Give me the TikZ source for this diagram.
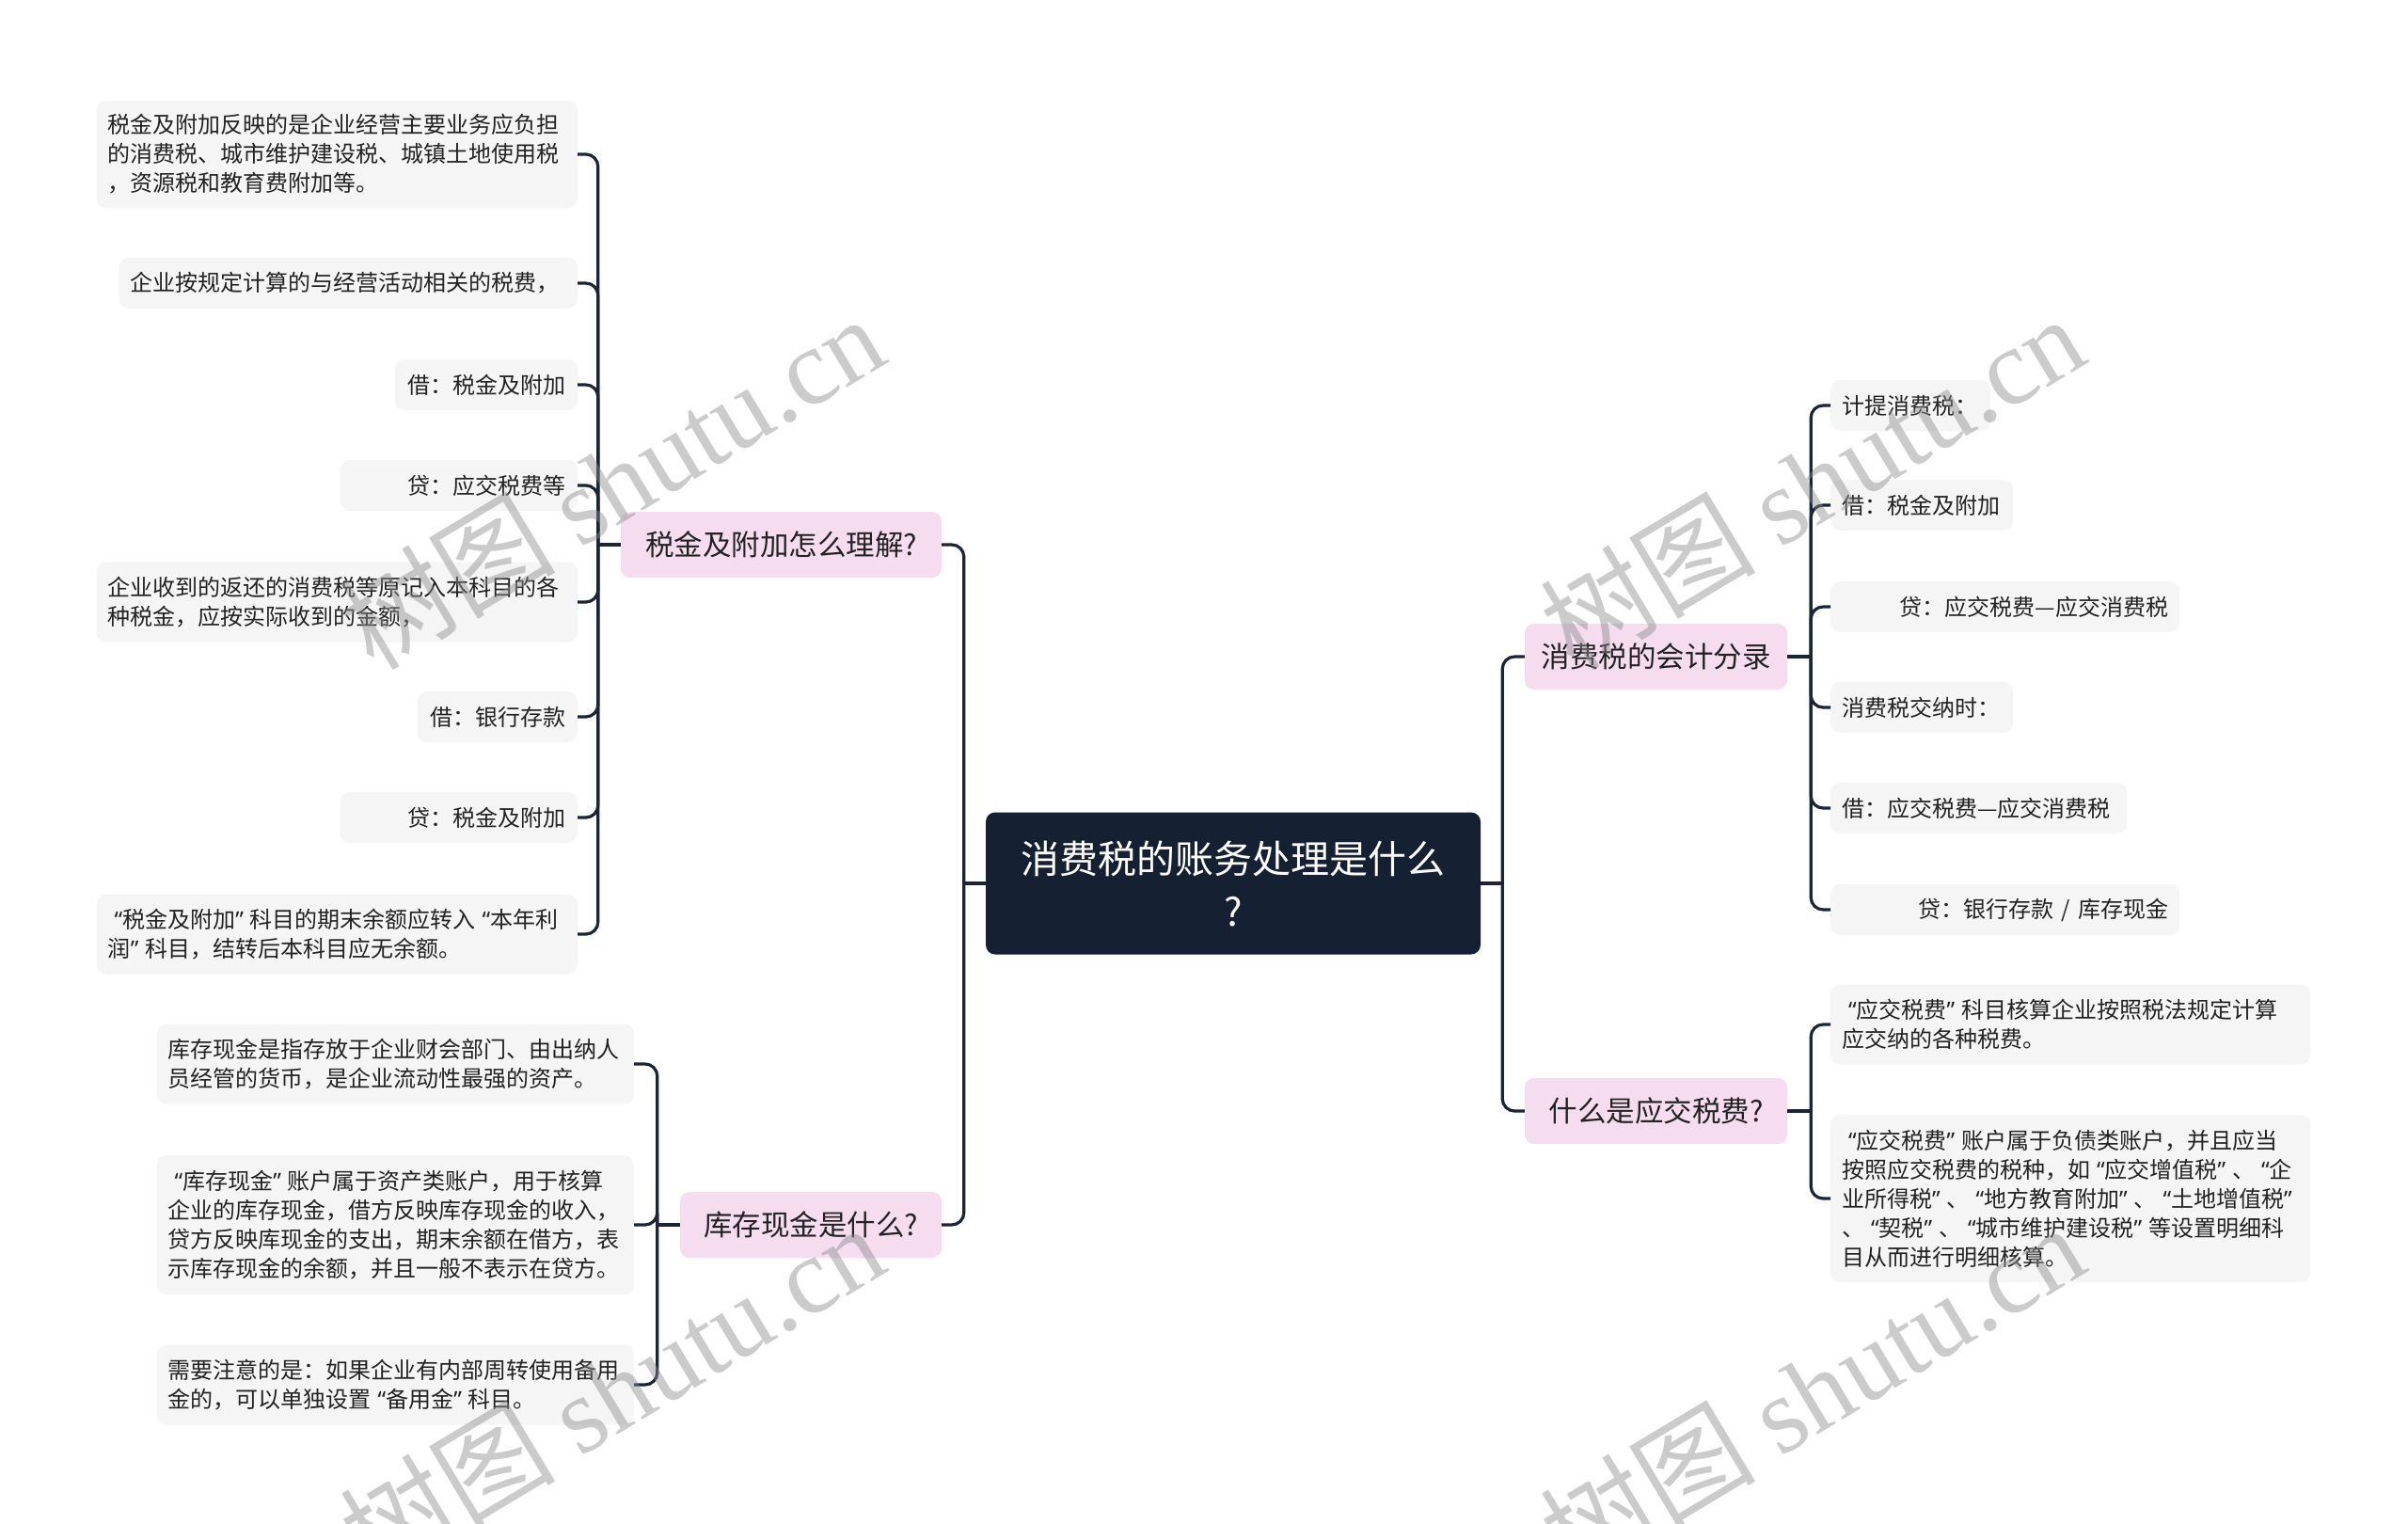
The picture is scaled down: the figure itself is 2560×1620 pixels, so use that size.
\documentclass[tikz,border=0pt]{standalone}
\usepackage{fontspec}
\setmainfont{Noto Sans CJK SC}
\newfontfamily\wmserif{Liberation Serif}
\newfontfamily\qfont{Noto Sans}
\newcommand\qo{\makebox[15.5pt][r]{\qfont “}}
\newcommand\qc{\makebox[15.5pt][l]{\qfont ”}}
\usetikzlibrary{calc}
\definecolor{navy}{HTML}{152132}
\definecolor{pinkfill}{HTML}{F5DCEF}
\definecolor{leafgray}{HTML}{F5F5F5}
\definecolor{linecol}{HTML}{1B2535}
\definecolor{textdark}{HTML}{222222}
\begin{document}
\begin{tikzpicture}[x=1pt,y=-1pt,
  leaf/.style={fill=leafgray, rounded corners=10pt, inner xsep=12pt, inner ysep=0pt,
    font=\fontsize{24}{31}\selectfont, text=textdark, align=left},
  leafr/.style={leaf, align=right},
  hone/.style={minimum height=54pt},
  htwo/.style={minimum height=85pt},
  hthree/.style={minimum height=114pt},
  hfour/.style={minimum height=148pt},
  hfive/.style={minimum height=178pt},
  branch/.style={fill=pinkfill, rounded corners=10pt, minimum height=70pt, inner sep=0pt,
    font=\fontsize{30.5}{36}\selectfont, text=textdark},
  rootnode/.style={fill=navy, rounded corners=10pt, minimum width=526pt, minimum height=151pt,
    inner sep=0pt, align=center, text=white, font=\fontsize{41}{56}\selectfont},
  conn/.style={draw=linecol, line width=3.2pt, rounded corners=13pt},
  wm/.style={text=black!45, opacity=0.45, font=\fontsize{115}{120}\selectfont}
]
\useasboundingbox (0,0) rectangle (2560,1620);
\fill[white] (0,0) rectangle (2560,1620);

% root
\node[rootnode] (C) at (1311,939) {消费税的账务处理是什么\\?};

% branches
\node[branch, minimum width=341pt] (B1) at (830.5,579) {税金及附加怎么理解?};
\node[branch, minimum width=278pt] (B2) at (862,1302) {库存现金是什么?};
\node[branch, minimum width=279pt] (B3) at (1760.5,698) {消费税的会计分录};
\node[branch, minimum width=279pt] (B4) at (1760.5,1181) {什么是应交税费?};

% left leaves of B1
\node[leaf, hthree, text width=487pt, anchor=east] (L1) at (614,164)
  {税金及附加反映的是企业经营主要业务应负担\\的消费税、城市维护建设税、城镇土地使用税\\，资源税和教育费附加等。};
\node[leaf, hone, text width=463pt, anchor=east] (L2) at (614,301)
  {企业按规定计算的与经营活动相关的税费，};
\node[leafr, hone, text width=170pt, anchor=east] (L3) at (614,409) {借：税金及附加};
\node[leafr, hone, text width=228pt, anchor=east] (L4) at (614,516) {贷：应交税费等};
\node[leaf, htwo, text width=487pt, anchor=east] (L5) at (614,640)
  {企业收到的返还的消费税等原记入本科目的各\\种税金，应按实际收到的金额，};
\node[leafr, hone, text width=146pt, anchor=east] (L6) at (614,762) {借：银行存款};
\node[leafr, hone, text width=228pt, anchor=east] (L7) at (614,869) {贷：税金及附加};
\node[leaf, htwo, text width=487pt, anchor=east] (L8) at (614,993)
  {\qo 税金及附加\qc 科目的期末余额应转入\qo 本年利\\润\qc 科目，结转后本科目应无余额。};

% left leaves of B2
\node[leaf, htwo, text width=483pt, anchor=east] (K1) at (674,1131)
  {库存现金是指存放于企业财会部门、由出纳人\\员经管的货币，是企业流动性最强的资产。};
\node[leaf, hfour, text width=483pt, anchor=east] (K2) at (674,1302)
  {\qo 库存现金\qc 账户属于资产类账户，用于核算\\企业的库存现金，借方反映库存现金的收入，\\贷方反映库现金的支出，期末余额在借方，表\\示库存现金的余额，并且一般不表示在贷方。};
\node[leaf, htwo, text width=483pt, anchor=east] (K3) at (674,1472)
  {需要注意的是：如果企业有内部周转使用备用\\金的，可以单独设置\qo 备用金\qc 科目。};

% right leaves of B3
\node[leaf, hone, text width=146pt, anchor=west] (R1) at (1946,431) {计提消费税：};
\node[leaf, hone, text width=170pt, anchor=west] (R2) at (1946,537) {借：税金及附加};
\node[leafr, hone, text width=347pt, anchor=west] (R3) at (1946,645) {贷：应交税费—应交消费税};
\node[leaf, hone, text width=170pt, anchor=west] (R4) at (1946,752) {消费税交纳时：};
\node[leaf, hone, text width=291pt, anchor=west] (R5) at (1946,859) {借：应交税费—应交消费税};
\node[leafr, hone, text width=347pt, anchor=west] (R6) at (1946,967) {贷：银行存款 / 库存现金};

% right leaves of B4
\node[leaf, htwo, text width=486pt, anchor=west] (S1) at (1946,1089)
  {\qo 应交税费\qc 科目核算企业按照税法规定计算\\应交纳的各种税费。};
\node[leaf, hfive, text width=486pt, anchor=west] (S2) at (1946,1274)
  {\qo 应交税费\qc 账户属于负债类账户，并且应当\\按照应交税费的税种，如\qo 应交增值税\qc 、\qo 企\\业所得税\qc 、\qo 地方教育附加\qc 、\qo 土地增值税\qc\\、\qo 契税\qc 、\qo 城市维护建设税\qc 等设置明细科\\目从而进行明细核算。};

% junctions
\coordinate (JC1) at ($(C.west)+(-23,0)$);
\coordinate (JC2) at ($(C.east)+(23,0)$);
\coordinate (JB1) at ($(B1.west)+(-24,0)$);
\coordinate (JB2) at ($(B2.west)+(-24,0)$);
\coordinate (JB3) at ($(B3.east)+(25,0)$);
\coordinate (JB4) at ($(B4.east)+(25,0)$);

% root connectors
\draw[conn] (C.west) -- (JC1);
\draw[conn] (JC1) |- (B1.east);
\draw[conn] (JC1) |- (B2.east);
\draw[conn] (C.east) -- (JC2);
\draw[conn] (JC2) |- (B3.west);
\draw[conn] (JC2) |- (B4.west);

% B1 connectors
\draw[conn] (B1.west) -- (JB1);
\foreach \n in {L1,L2,L3,L4,L5,L6,L7,L8} \draw[conn] (JB1) |- (\n.east);
% B2 connectors
\draw[conn] (B2.west) -- (JB2);
\foreach \n in {K1,K2,K3} \draw[conn] (JB2) |- (\n.east);
% B3 connectors
\draw[conn] (B3.east) -- (JB3);
\foreach \n in {R1,R2,R3,R4,R5,R6} \draw[conn] (JB3) |- (\n.west);
% B4 connectors
\draw[conn] (B4.east) -- (JB4);
\foreach \n in {S1,S2} \draw[conn] (JB4) |- (\n.west);

% watermarks
\node[wm, rotate=31] (W1) at (650,512) {树图 {\wmserif shutu.cn}};
\node[wm, rotate=31] (W2) at (1926,512) {树图 {\wmserif shutu.cn}};
\node[wm, rotate=31] (W3) at (650,1478) {树图 {\wmserif shutu.cn}};
\node[wm, rotate=31] (W4) at (1926,1478) {树图 {\wmserif shutu.cn}};
\end{tikzpicture}
\end{document}
